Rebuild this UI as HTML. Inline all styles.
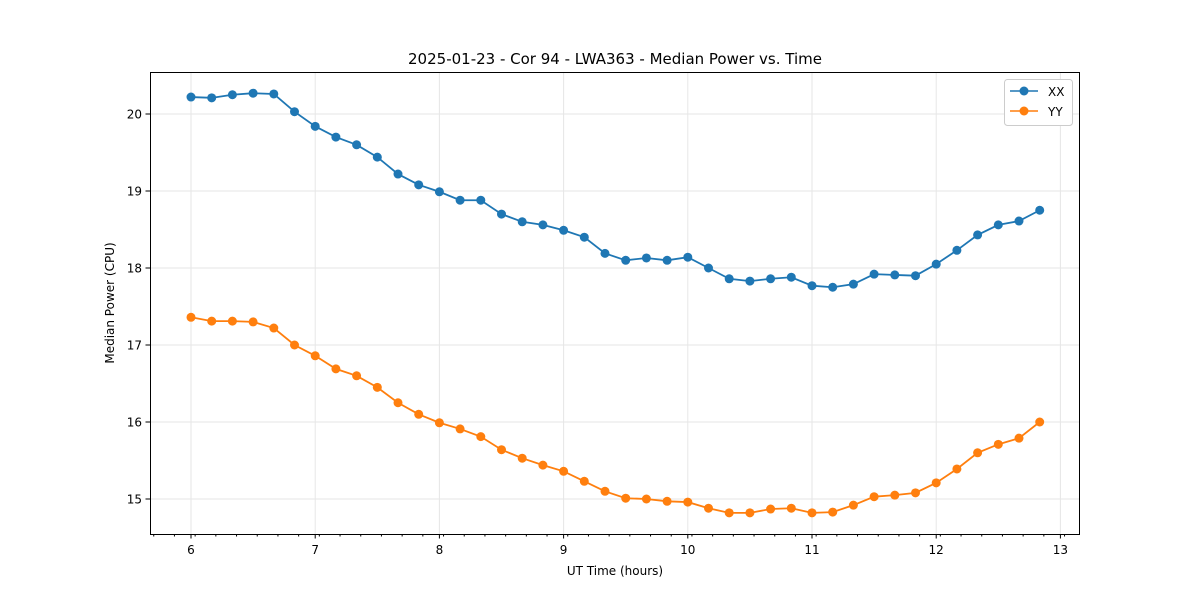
<!DOCTYPE html>
<html><head><meta charset="utf-8"><style>
body{margin:0;background:#fff;font-family:"Liberation Sans","DejaVu Sans",sans-serif;}
svg text{font-family:"DejaVu Sans","Liberation Sans",sans-serif;}
</style></head><body>
<svg id="chart" width="1200" height="600" xmlns="http://www.w3.org/2000/svg">
<rect width="1200" height="600" fill="#fff"/>
<g id="grid"></g>
<g id="series"></g>
<rect x="150.5" y="72.5" width="929" height="462" fill="none" stroke="#000" stroke-width="1"/>
<g id="axes"></g>
<text x="615" y="64" text-anchor="middle" font-size="15">2025-01-23 - Cor 94 - LWA363 - Median Power vs. Time</text>
<text x="615" y="575" text-anchor="middle" font-size="12">UT Time (hours)</text>
<text transform="translate(114,303) rotate(-90)" text-anchor="middle" font-size="12">Median Power (CPU)</text>
<g>
<rect x="1004.5" y="79.5" width="68" height="46" rx="3" fill="#fff" stroke="#ccc"/>
<g>
<line x1="1010" y1="91" x2="1038" y2="91" stroke="#1f77b4" stroke-width="1.5"/><circle cx="1024" cy="91" r="4.5" fill="#1f77b4"/>
<text x="1048" y="96" font-size="12">XX</text></g>
<g>
<line x1="1010" y1="111" x2="1038" y2="111" stroke="#ff7f0e" stroke-width="1.5"/><circle cx="1024" cy="111" r="4.5" fill="#ff7f0e"/>
<text x="1048" y="116" font-size="12">YY</text></g>
</g>
</svg>
<script>
const xx = [20.22,20.21,20.25,20.27,20.26,20.03,19.84,19.70,19.60,19.44,19.22,19.08,18.99,18.88,18.88,18.70,18.60,18.56,18.49,18.40,18.19,18.10,18.13,18.10,18.14,18.00,17.86,17.83,17.86,17.88,17.77,17.75,17.79,17.92,17.91,17.90,18.05,18.23,18.43,18.56,18.61,18.75];
const yy = [17.36,17.31,17.31,17.30,17.22,17.00,16.86,16.69,16.60,16.45,16.25,16.10,15.99,15.91,15.81,15.64,15.53,15.44,15.36,15.23,15.10,15.01,15.00,14.97,14.96,14.88,14.82,14.82,14.87,14.88,14.82,14.83,14.92,15.03,15.05,15.08,15.21,15.39,15.60,15.71,15.79,16.00];
const xTicks = [6,7,8,9,10,11,12,13];
const yTicks = [15,16,17,18,19,20];
const startHour = 6, stepHour = 1/6;
const NS='http://www.w3.org/2000/svg';
function X(h){return 191+(h-6)*124.2;}
function Y(v){return 114+(20-v)*77;}
function mk(tag,attrs,parent){const e=document.createElementNS(NS,tag);for(const k in attrs)e.setAttribute(k,attrs[k]);parent.appendChild(e);return e;}
const grid=document.getElementById('grid'),axes=document.getElementById('axes'),ser=document.getElementById('series');
xTicks.forEach(t=>{const x=X(t);
 const g=mk('line',{x1:x,x2:x,y1:72,y2:534,stroke:'#e6e6e6','stroke-width':1},grid);
 
 
 mk('line',{x1:x,x2:x,y1:534,y2:538.5,stroke:'#000'},axes);
 const tx=mk('text',{x:x,y:554,'text-anchor':'middle','font-size':12},axes);tx.textContent=t;
 
 
});
for(let m=5.7;m<=13.15;m+=1/6){const x=X(m);if(x<151||x>1079)continue;mk('line',{x1:x,x2:x,y1:534,y2:536.5,stroke:'#000'},axes);}
yTicks.forEach(t=>{const y=Y(t);
 const g=mk('line',{x1:150,x2:1080,y1:y,y2:y,stroke:'#e6e6e6','stroke-width':1},grid);
 
 
 mk('line',{x1:145.5,x2:150,y1:y,y2:y,stroke:'#000'},axes);
 const tx=mk('text',{x:142,y:y+4.5,'text-anchor':'end','font-size':12},axes);tx.textContent=t;
 
 
});
function draw(vals,color,name){
 const g=mk('g',{},ser);
 
 
 const pts=vals.map((v,i)=>X(startHour+i*stepHour)+','+Y(v)).join(' ');
 mk('polyline',{points:pts,fill:'none',stroke:color,'stroke-width':1.8},g);
 vals.forEach((v,i)=>{const c=mk('circle',{cx:X(startHour+i*stepHour),cy:Y(v),r:4.5,fill:color},g);
  
  });
}
draw(xx,'#1f77b4','series-xx');
draw(yy,'#ff7f0e','series-yy');
</script>
</body></html>
